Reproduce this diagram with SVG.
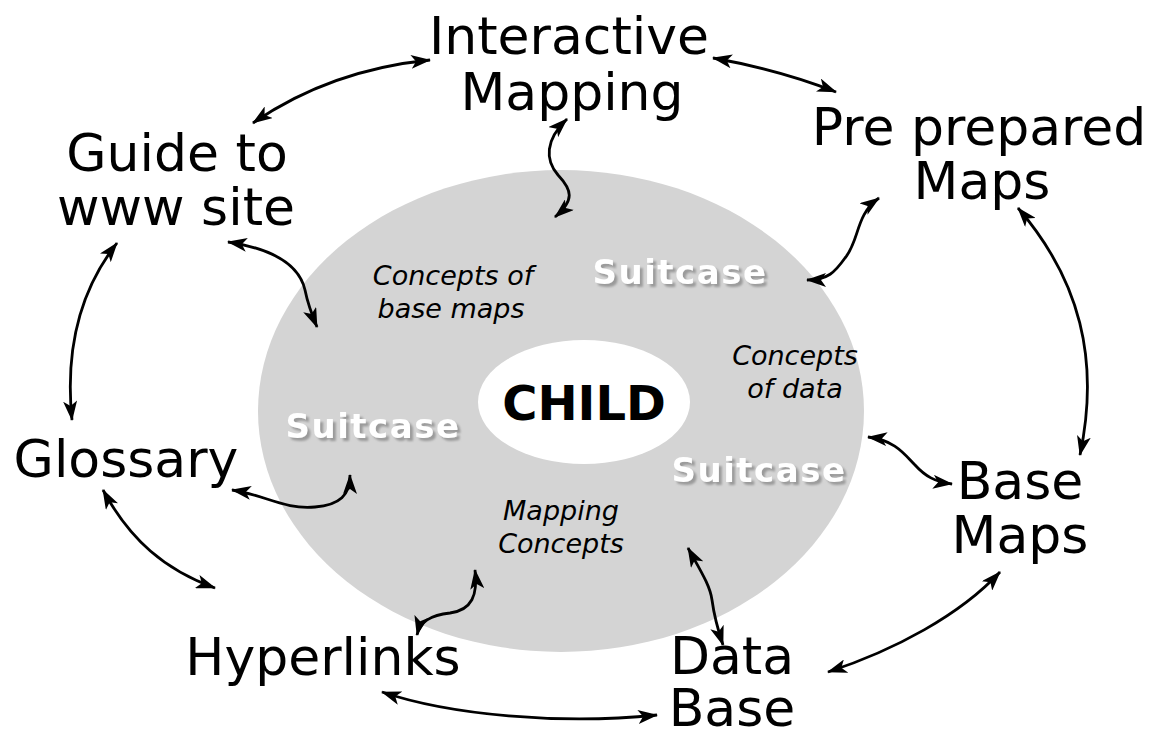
<svg xmlns="http://www.w3.org/2000/svg" width="1156" height="733" viewBox="0 0 1156 733">
  <defs>
    <marker id="head" viewBox="0 0 20 14" refX="19" refY="7" markerWidth="20" markerHeight="14" markerUnits="userSpaceOnUse" orient="auto-start-reverse">
      <path d="M0,0 L20,7 L0,14 L5,7 Z" fill="#000"/>
    </marker>
    <filter id="drop" x="-10%" y="-30%" width="130%" height="160%">
      <feGaussianBlur in="SourceAlpha" stdDeviation="1.2"/>
      <feOffset dx="2.5" dy="2.5" result="off"/>
      <feFlood flood-color="#9a9a9a"/>
      <feComposite in2="off" operator="in" result="shadow"/>
      <feMerge>
        <feMergeNode in="shadow"/>
        <feMergeNode in="SourceGraphic"/>
      </feMerge>
    </filter>
  </defs>
  <style>
    .big { font-family: "DejaVu Sans", Verdana, sans-serif; font-size: 52px; fill: #000; text-anchor: middle; }
    .it { font-family: "DejaVu Sans", Verdana, sans-serif; font-size: 27px; font-style: italic; fill: #000; text-anchor: middle; }
    .suit { font-family: "DejaVu Sans", Verdana, sans-serif; font-size: 34px; font-weight: bold; fill: #fff; text-anchor: middle; letter-spacing: 1.5px; filter: url(#drop); }
    .core { font-family: "DejaVu Sans", Verdana, sans-serif; font-size: 48px; font-weight: bold; fill: #000; text-anchor: middle; }
    .link { fill: none; stroke: #000; stroke-width: 2.8; marker-start: url(#head); marker-end: url(#head); }
  </style>

  <rect width="1156" height="733" fill="#fff"/>

  <!-- central disc with its concept labels -->
  <g id="centre">
    <ellipse cx="561" cy="411" rx="303" ry="241" fill="#d4d4d4"/>
    <ellipse cx="584" cy="402" rx="106" ry="62" fill="#fff"/>
    <text class="core" x="584" y="420">CHILD</text>
    <text class="it" x="453" y="285">Concepts of</text>
    <text class="it" x="451" y="318">base maps</text>
    <text class="it" x="795" y="365">Concepts</text>
    <text class="it" x="795" y="398">of data</text>
    <text class="it" x="561" y="520">Mapping</text>
    <text class="it" x="561" y="553">Concepts</text>
    <text class="suit" x="680" y="284">Suitcase</text>
    <text class="suit" x="373" y="438">Suitcase</text>
    <text class="suit" x="759" y="482">Suitcase</text>
  </g>

  <g id="interactive-mapping">
    <text class="big" x="569" y="54">Interactive</text>
    <text class="big" x="572" y="110">Mapping</text>
  </g>
  <g id="pre-prepared-maps">
    <text class="big" x="979" y="145">Pre prepared</text>
    <text class="big" x="982" y="199">Maps</text>
  </g>
  <g id="guide">
    <text class="big" x="177" y="171">Guide to</text>
    <text class="big" x="176" y="225">www site</text>
  </g>
  <g id="glossary">
    <text class="big" x="126" y="477">Glossary</text>
  </g>
  <g id="base-maps">
    <text class="big" x="1020" y="499">Base</text>
    <text class="big" x="1020" y="553">Maps</text>
  </g>
  <g id="hyperlinks">
    <text class="big" x="323" y="675">Hyperlinks</text>
  </g>
  <g id="data-base">
    <text class="big" x="732" y="674">Data</text>
    <text class="big" x="732" y="726">Base</text>
  </g>

  <!-- two-headed connectors -->
  <g id="connectors">
    <path class="link" d="M253,123 Q330,70 430,60"/>
    <path class="link" d="M713,58 Q780,70 836,92"/>
    <path class="link" d="M567,119 C545,140 545,160 558,175 C572,190 575,200 555,217"/>
    <path class="link" d="M879,198 C855,215 860,240 845,258 C835,272 828,280 807,280"/>
    <path class="link" d="M1018,208 C1080,280 1100,360 1080,455"/>
    <path class="link" d="M228,242 C280,250 300,268 305,290 C308,305 312,315 317,327"/>
    <path class="link" d="M117,243 C80,290 65,350 72,420"/>
    <path class="link" d="M868,437 C895,440 905,455 915,465 C925,476 935,482 952,484"/>
    <path class="link" d="M232,490 C265,495 285,510 315,507 C340,505 350,495 350,475"/>
    <path class="link" d="M103,490 C130,540 165,570 215,588"/>
    <path class="link" d="M1000,572 C960,615 895,650 828,672"/>
    <path class="link" d="M475,570 C478,595 472,610 450,613 C430,615 420,622 417,635"/>
    <path class="link" d="M688,548 C700,570 710,585 712,600 C714,615 718,630 723,645"/>
    <path class="link" d="M382,692 C450,715 560,725 657,715"/>
  </g>
</svg>
